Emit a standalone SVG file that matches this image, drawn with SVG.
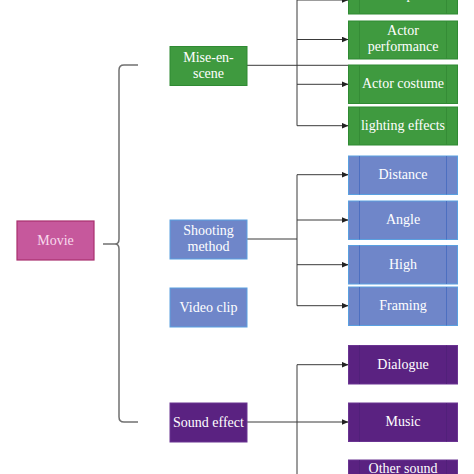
<svg xmlns="http://www.w3.org/2000/svg" width="474" height="474" viewBox="0 0 474 474">
<style>
text{font-family:"Liberation Serif","Times New Roman",serif;font-size:14px;fill:#ffffff;text-anchor:middle}
.g{fill:#3f9a3f;stroke:#2f8a33;stroke-width:1}
.b{fill:#6f86c9;stroke:#5aa0e0;stroke-width:1}
.p{fill:#5a2281;stroke:#6a3492;stroke-width:1}
.gi{stroke:#358c36;stroke-width:1}
.bi{stroke:#4d6fc0;stroke-width:1}
.pi{stroke:#51207a;stroke-width:1}
.c{fill:none;stroke:#3a3a3a;stroke-width:1}
.br{fill:none;stroke:#707070;stroke-width:1.5}
</style>
<defs>
<marker id="ah" markerWidth="7" markerHeight="6" refX="6.5" refY="3" orient="auto" markerUnits="userSpaceOnUse">
<path d="M0,0 L7,3 L0,6 Z" fill="#222"/>
</marker>
</defs>
<rect width="474" height="474" fill="#ffffff"/>
<g id="connectors">
<path class="br" d="M138,65 H124 Q119,65 119,70 V239 Q119,244 115,244 H103 M115,244 Q119,244 119,249 V417 Q119,422 124,422 H138"/>
<path class="c" d="M247,65.3 H348" stroke-width="1.3"/>
<path class="c" d="M297,0 V125.7"/>
<path class="c" d="M297,0 H348" marker-end="url(#ah)"/>
<path class="c" d="M297,39.5 H348" marker-end="url(#ah)"/>
<path class="c" d="M297,84.3 H348" marker-end="url(#ah)"/>
<path class="c" d="M297,125.7 H348" marker-end="url(#ah)"/>
<path class="c" d="M247,239 H297 M297,174.7 V305.7"/>
<path class="c" d="M297,174.7 H348" marker-end="url(#ah)"/>
<path class="c" d="M297,220 H348" marker-end="url(#ah)"/>
<path class="c" d="M297,264.7 H348" marker-end="url(#ah)"/>
<path class="c" d="M297,305.7 H348" marker-end="url(#ah)"/>
<path class="c" d="M247,422 H348" marker-end="url(#ah)"/>
<path class="c" d="M297,364.7 V474"/>
<path class="c" d="M297,364.7 H348" marker-end="url(#ah)"/>
</g>
<g id="movie">
<rect x="17" y="221" width="77" height="39" fill="#c6589c" stroke="#a8306e" stroke-width="1.2"/>
<text x="55.5" y="245" style="fill:#f8d8ec">Movie</text>
</g>
<g id="mise-en-scene">
<rect class="g" x="170" y="46.5" width="77" height="39"/>
<text x="208.5" y="62">Mise-en-</text>
<text x="208.5" y="77.5">scene</text>
</g>
<g id="shooting-method">
<rect class="b" x="170" y="220" width="77" height="39"/>
<text x="208.5" y="235">Shooting</text>
<text x="208.5" y="251">method</text>
</g>
<g id="video-clip">
<rect class="b" x="170" y="288" width="77" height="39"/>
<text x="208.5" y="312">Video clip</text>
</g>
<g id="sound-effect">
<rect class="p" x="170" y="403" width="77" height="39"/>
<text x="208.5" y="427">Sound effect</text>
</g>
<g id="props">
<rect class="g" x="348.5" y="-25" width="109" height="39"/>
<line class="gi" x1="359.5" y1="-25" x2="359.5" y2="14"/>
<line class="gi" x1="446.5" y1="-25" x2="446.5" y2="14"/>
<text x="403" y="-1">Props</text>
</g>
<g id="actor-performance">
<rect class="g" x="348.5" y="21" width="109" height="38"/>
<line class="gi" x1="359.5" y1="21" x2="359.5" y2="59"/>
<line class="gi" x1="446.5" y1="21" x2="446.5" y2="59"/>
<text x="403" y="35">Actor</text>
<text x="403" y="51">performance</text>
</g>
<g id="actor-costume">
<rect class="g" x="348.5" y="65" width="109" height="38.5"/>
<line class="gi" x1="359.5" y1="65" x2="359.5" y2="103.5"/>
<line class="gi" x1="446.5" y1="65" x2="446.5" y2="103.5"/>
<text x="403" y="88">Actor costume</text>
</g>
<g id="lighting-effects">
<rect class="g" x="348.5" y="107" width="109" height="38"/>
<line class="gi" x1="359.5" y1="107" x2="359.5" y2="145"/>
<line class="gi" x1="446.5" y1="107" x2="446.5" y2="145"/>
<text x="403" y="130">lighting effects</text>
</g>
<g id="distance">
<rect class="b" x="348.5" y="156" width="109" height="38.5"/>
<line class="bi" x1="359.5" y1="156" x2="359.5" y2="194.5"/>
<line class="bi" x1="446.5" y1="156" x2="446.5" y2="194.5"/>
<text x="403" y="179">Distance</text>
</g>
<g id="angle">
<rect class="b" x="348.5" y="201" width="109" height="38.5"/>
<line class="bi" x1="359.5" y1="201" x2="359.5" y2="239.5"/>
<line class="bi" x1="446.5" y1="201" x2="446.5" y2="239.5"/>
<text x="403" y="224">Angle</text>
</g>
<g id="high">
<rect class="b" x="348.5" y="245.5" width="109" height="38.5"/>
<line class="bi" x1="359.5" y1="245.5" x2="359.5" y2="284"/>
<line class="bi" x1="446.5" y1="245.5" x2="446.5" y2="284"/>
<text x="403" y="269">High</text>
</g>
<g id="framing">
<rect class="b" x="348.5" y="287" width="109" height="38.5"/>
<line class="bi" x1="359.5" y1="287" x2="359.5" y2="325.5"/>
<line class="bi" x1="446.5" y1="287" x2="446.5" y2="325.5"/>
<text x="403" y="310">Framing</text>
</g>
<g id="dialogue">
<rect class="p" x="348.5" y="345.5" width="109" height="38.5"/>
<line class="pi" x1="359.5" y1="345.5" x2="359.5" y2="384"/>
<line class="pi" x1="446.5" y1="345.5" x2="446.5" y2="384"/>
<text x="403" y="369">Dialogue</text>
</g>
<g id="music">
<rect class="p" x="348.5" y="403" width="109" height="38.5"/>
<line class="pi" x1="359.5" y1="403" x2="359.5" y2="441.5"/>
<line class="pi" x1="446.5" y1="403" x2="446.5" y2="441.5"/>
<text x="403" y="426">Music</text>
</g>
<g id="other-sound">
<rect class="p" x="348.5" y="460" width="109" height="38.5"/>
<line class="pi" x1="359.5" y1="460" x2="359.5" y2="498.5"/>
<line class="pi" x1="446.5" y1="460" x2="446.5" y2="498.5"/>
<text x="403" y="473">Other sound</text>
</g>
</svg>
